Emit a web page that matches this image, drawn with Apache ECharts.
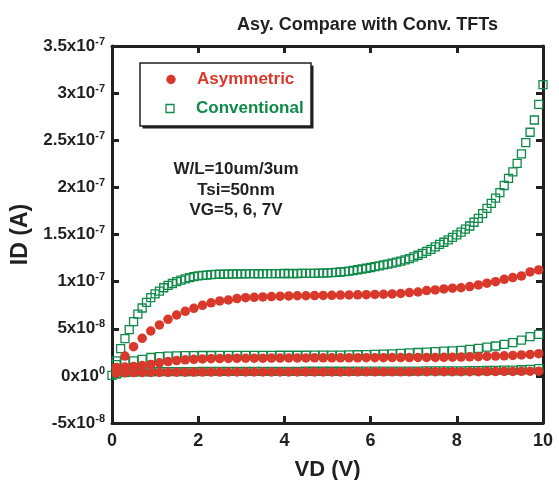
<!DOCTYPE html>
<html>
<head>
<meta charset="utf-8">
<script src="https://cdn.jsdelivr.net/npm/echarts@6/dist/echarts.min.js"></script>
<style>html,body{margin:0;padding:0;background:#fff}#c{width:559px;height:480px}</style>
</head>
<body>
<div id="c"></div>
<script>
// Drain voltage sweeps (V)
const vdFine = [0,0.1,0.2,0.3,0.4,0.5,0.6,0.7,0.8,0.9,1.0,1.1,1.2,1.3,1.4,1.5,1.6,1.7,1.8,1.9,2.0,2.1,2.2,2.3,2.4,2.5,2.6,2.7,2.8,2.9,3.0,3.1,3.2,3.3,3.4,3.5,3.6,3.7,3.8,3.9,4.0,4.1,4.2,4.3,4.4,4.5,4.6,4.7,4.8,4.9,5.0,5.1,5.2,5.3,5.4,5.5,5.6,5.7,5.8,5.9,6.0,6.1,6.2,6.3,6.4,6.5,6.6,6.7,6.8,6.9,7.0,7.1,7.2,7.3,7.4,7.5,7.6,7.7,7.8,7.9,8.0,8.1,8.2,8.3,8.4,8.5,8.6,8.7,8.8,8.9,9.0,9.1,9.2,9.3,9.4,9.5,9.6,9.7,9.8,9.9,10.0];
const vdCoarse = [0.1,0.3,0.5,0.7,0.9,1.1,1.3,1.5,1.7,1.9,2.1,2.3,2.5,2.7,2.9,3.1,3.3,3.5,3.7,3.9,4.1,4.3,4.5,4.7,4.9,5.1,5.3,5.5,5.7,5.9,6.1,6.3,6.5,6.7,6.9,7.1,7.3,7.5,7.7,7.9,8.1,8.3,8.5,8.7,8.9,9.1,9.3,9.5,9.7,9.9];

// Drain current in units of 1e-8 A
const convVG7 = [0.05,1.6,2.9,3.95,4.9,5.75,6.55,7.2,7.8,8.3,8.7,9.0,9.35,9.6,9.8,10.0,10.15,10.3,10.42,10.52,10.6,10.66,10.7,10.74,10.76,10.78,10.8,10.8,10.82,10.82,10.83,10.83,10.84,10.84,10.83,10.84,10.85,10.85,10.84,10.85,10.86,10.86,10.85,10.86,10.87,10.87,10.88,10.88,10.9,10.9,10.92,10.95,10.98,11.02,11.06,11.12,11.18,11.26,11.34,11.42,11.5,11.6,11.68,11.77,11.86,11.96,12.06,12.18,12.31,12.45,12.62,12.8,13.0,13.2,13.43,13.68,13.95,14.18,14.44,14.7,14.96,15.25,15.56,15.9,16.3,16.72,17.22,17.78,18.3,18.85,19.45,20.2,20.95,21.65,22.55,23.55,24.75,25.85,27.15,28.8,30.9];
const convVG6 = [1.2,1.5,1.6,1.75,1.95,2.05,2.1,2.12,2.14,2.15,2.16,2.16,2.17,2.17,2.17,2.18,2.18,2.18,2.18,2.19,2.19,2.19,2.19,2.2,2.2,2.2,2.21,2.22,2.24,2.26,2.28,2.31,2.34,2.38,2.43,2.48,2.53,2.58,2.63,2.66,2.71,2.82,2.92,3.06,3.17,3.35,3.53,3.8,4.16,4.41];
const convVG5 = [0.2,0.35,0.4,0.42,0.44,0.45,0.45,0.46,0.46,0.46,0.47,0.47,0.47,0.47,0.47,0.48,0.48,0.48,0.48,0.48,0.48,0.48,0.49,0.49,0.49,0.49,0.49,0.49,0.5,0.5,0.5,0.5,0.5,0.51,0.51,0.51,0.52,0.52,0.53,0.53,0.54,0.55,0.56,0.57,0.58,0.6,0.62,0.65,0.7,0.77];
const asyVG7 = [0.9,2.1,3.1,3.98,4.76,5.4,6.0,6.46,6.85,7.17,7.49,7.75,7.95,8.05,8.2,8.3,8.33,8.38,8.42,8.45,8.48,8.5,8.5,8.52,8.53,8.55,8.57,8.58,8.6,8.62,8.64,8.66,8.7,8.74,8.84,8.9,9.05,9.12,9.22,9.3,9.35,9.48,9.65,9.83,10.0,10.25,10.43,10.6,11.03,11.24];
const asyVG6 = [0.85,0.95,1.0,1.1,1.22,1.38,1.52,1.62,1.7,1.76,1.8,1.82,1.84,1.85,1.86,1.87,1.88,1.88,1.89,1.89,1.9,1.9,1.9,1.91,1.91,1.91,1.92,1.92,1.92,1.93,1.93,1.93,1.94,1.94,1.94,1.95,1.95,1.96,1.97,1.98,2.0,2.02,2.04,2.07,2.1,2.13,2.17,2.22,2.28,2.36];
const asyVG5 = [0.3,0.33,0.35,0.36,0.37,0.38,0.38,0.39,0.39,0.4,0.4,0.4,0.4,0.41,0.41,0.41,0.41,0.41,0.41,0.42,0.42,0.42,0.42,0.42,0.42,0.42,0.42,0.43,0.43,0.43,0.43,0.43,0.43,0.43,0.43,0.44,0.44,0.44,0.44,0.44,0.45,0.45,0.45,0.46,0.46,0.47,0.47,0.48,0.49,0.5];

// Y tick labels (value in 1e-8 A -> mantissa, exponent)
const yTickValues = [-5,0,5,10,15,20,25,30,35];
const yTickMantissa = ['-5','0','5','1','1.5','2','2.5','3','3.5'];
const yTickExponent = ['-8','0','-8','-7','-7','-7','-7','-7','-7'];

const legendNames = ['Asymmetric','Conventional'];
const noteLines = ['W/L=10um/3um','Tsi=50nm','VG=5, 6, 7V'];
const titleText = 'Asy. Compare with Conv. TFTs';

const RED = '#d8392b', GREEN = '#0f8a48', INK = '#231f20';
const FONT = '"Liberation Sans", Arial, Helvetica, sans-serif';

function pairs(xs, ys){ return xs.map((x,i)=>[x, ys[i]]); }

const greenStyle = {color:'rgba(0,0,0,0)', borderColor:GREEN, borderWidth:1.3, opacity:1};
const redStyle = {color:RED, opacity:1};

function sq(name, xs, ys){
  return {type:'scatter', name:name, data:pairs(xs,ys), symbol:'rect', symbolSize:8, itemStyle:greenStyle, clip:false, z:2};
}
function dot(name, xs, ys){
  return {type:'scatter', name:name, data:pairs(xs,ys), symbol:'circle', symbolSize:9.5, itemStyle:redStyle, clip:false, z:3};
}

const axisLineStyle = {color:INK, width:3};
const chart = echarts.init(document.getElementById('c'), null, {renderer:'canvas'});
const textCenter = {fill:INK, font:'bold 17px '+FONT, align:'center', verticalAlign:'middle', textAlign:'center', textVerticalAlign:'middle'};
chart.setOption({
  animation:false,
  backgroundColor:'#fff',
  textStyle:{fontFamily:FONT},
  title:{text:titleText, left:232, top:11, textStyle:{fontFamily:FONT, fontSize:18, fontWeight:'bold', color:INK}},
  grid:{left:112, right:16, top:46, bottom:57, containLabel:false, outerBoundsMode:'none'},
  xAxis:[
    {type:'value', min:0, max:10, interval:2, position:'bottom',
     axisLine:{onZero:false, lineStyle:axisLineStyle},
     axisTick:{inside:true, length:7, lineStyle:{color:INK, width:3}},
     axisLabel:{fontFamily:FONT, fontSize:18, fontWeight:'bold', color:INK, margin:9},
     splitLine:{show:false},
     name:'VD (V)', nameLocation:'middle', nameGap:36,
     nameTextStyle:{fontFamily:FONT, fontSize:22, fontWeight:'bold', color:INK}},
    {type:'value', min:0, max:10, interval:2, position:'top',
     axisLine:{onZero:false, lineStyle:axisLineStyle},
     axisTick:{inside:true, length:7, lineStyle:{color:INK, width:3}},
     axisLabel:{show:false}, splitLine:{show:false}}
  ],
  yAxis:[
    {type:'value', min:-5, max:35, interval:5, position:'left',
     axisLine:{onZero:false, lineStyle:axisLineStyle},
     axisTick:{inside:true, length:7, lineStyle:{color:INK, width:3}},
     splitLine:{show:false},
     axisLabel:{margin:7, formatter:function(v){
        const i = yTickValues.indexOf(Math.round(v));
        if(i<0) return '';
        return '{b|'+yTickMantissa[i]+'x10}{s|'+yTickExponent[i]+'}';
      },
      rich:{
        b:{fontFamily:FONT, fontSize:17, fontWeight:'bold', color:INK},
        s:{fontFamily:FONT, fontSize:11, fontWeight:'bold', color:INK, padding:[0,0,9,0]}
      }},
     name:'ID (A)', nameLocation:'middle', nameGap:71,
     nameTextStyle:{fontFamily:FONT, fontSize:23, fontWeight:'bold', color:INK}},
    {type:'value', min:-5, max:35, interval:5, position:'right',
     axisLine:{onZero:false, lineStyle:axisLineStyle},
     axisTick:{inside:true, length:7, lineStyle:{color:INK, width:3}},
     axisLabel:{show:false}, splitLine:{show:false}}
  ],
  series:[
    sq(legendNames[1], vdFine, convVG7),
    sq(legendNames[1], vdCoarse, convVG6),
    sq(legendNames[1], vdCoarse, convVG5),
    dot(legendNames[0], vdCoarse, asyVG7),
    dot(legendNames[0], vdCoarse, asyVG6),
    dot(legendNames[0], vdCoarse, asyVG5)
  ],
  graphic:[
    {type:'rect', shape:{x:142.5, y:65.5, width:171, height:63}, z:10, style:{fill:INK}},
    {type:'rect', shape:{x:140, y:63, width:171, height:63}, z:10,
     style:{fill:'#fff', stroke:INK, lineWidth:1.5}},
    {type:'circle', shape:{cx:171, cy:79.5, r:4.7}, z:11, style:{fill:RED}},
    {type:'text', x:197, y:79.5, z:11, style:{text:legendNames[0], fill:RED, font:'bold 17px '+FONT, textVerticalAlign:'middle', verticalAlign:'middle'}},
    {type:'rect', shape:{x:166, y:104.5, width:8, height:8}, z:11, style:{fill:'none', stroke:GREEN, lineWidth:1.3}},
    {type:'text', x:196, y:108.5, z:11, style:{text:legendNames[1], fill:GREEN, font:'bold 17px '+FONT, textVerticalAlign:'middle', verticalAlign:'middle'}},
    {type:'text', x:236, y:169, z:11, style:Object.assign({text:noteLines[0]}, textCenter)},
    {type:'text', x:236, y:190, z:11, style:Object.assign({text:noteLines[1]}, textCenter)},
    {type:'text', x:236, y:210, z:11, style:Object.assign({text:noteLines[2]}, textCenter)}
  ]
});
</script>
</body>
</html>
